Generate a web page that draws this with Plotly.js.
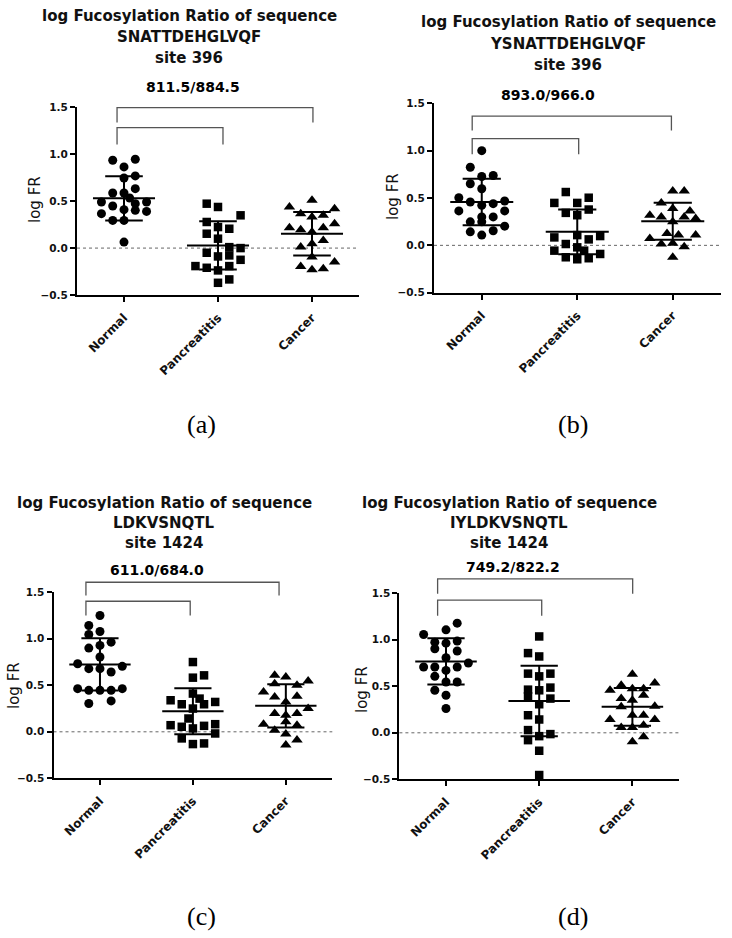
<!DOCTYPE html>
<html><head><meta charset="utf-8">
<script src="https://cdn.plot.ly/plotly-3.0.1.min.js"></script>
<style>html,body{margin:0;padding:0;background:#fff}#chart{width:732px;height:938px}</style>
</head><body><div id="chart"></div>
<script>
// ---------------- DATA ----------------
const categories = ['Normal', 'Pancreatitis', 'Cancer'];
const yTickVals = [-0.5, 0, 0.5, 1.0, 1.5];
const titleLine1 = 'log Fucosylation Ratio of sequence';
const sequences = ['SNATTDEHGLVQF', 'YSNATTDEHGLVQF', 'LDKVSNQTL', 'IYLDKVSNQTL'];
const sites = ['site 396', 'site 396', 'site 1424', 'site 1424'];
const massRatios = ['811.5/884.5', '893.0/966.0', '611.0/684.0', '749.2/822.2'];
const panelLabels = ['(a)', '(b)', '(c)', '(d)'];
const yTitle = 'log FR';

// panel (a)
const aNormal = [0.936, 0.947, 0.865, 0.747, 0.769, 0.587, 0.587, 0.633, 0.534, 0.491, 0.448, 0.409, 0.473, 0.491, 0.367, 0.391, 0.295, 0.295, 0.064, 0.402];
const aNormalSlot = [-1, 1, 0, 0, 1, -1, 0, 1, 0.5, -2, -1, 0, 1, 2, -2, 2, -1, 0, 0, 1];
const aPanc = [0.473, 0.438, 0.349, 0.278, 0.224, 0.206, 0.153, 0.100, 0.0, -0.05, -0.089, -0.078, -0.125, -0.192, -0.21, -0.192, -0.238, -0.334, -0.37, 0.01];
const aPancSlot = [-1, 0, 2, -1, 0, 1, -1, 0, 2, -1, 0, 1, 2, -2, -1, 1, 0, 1, 0, 1];
const aCancer = [0.509, 0.438, 0.42, 0.367, 0.349, 0.33, 0.217, 0.196, 0.217, 0.26, 0.171, 0.011, 0.046, 0.082, -0.096, -0.196, -0.231, -0.22, -0.149];
const aCancerSlot = [0, -2, 2, -1, 1, 0, -2, -1, 1, 2, 0, -1, 0, 1, 0, -1, 0, 1, 2];
const aMean = [0.53, 0.028, 0.153];
const aSD = [0.235, 0.257, 0.231];

// panel (b)
const bNormal = [1.0, 0.825, 0.727, 0.738, 0.65, 0.598, 0.503, 0.468, 0.458, 0.423, 0.44, 0.364, 0.364, 0.3, 0.3, 0.248, 0.248, 0.203, 0.143, 0.108, 0.154];
const bNormalSlot = [0, -1, 0, 1, -1, 0, -2, 2, -1, 0, 1, -2, 2, 0, 1, -1, 0, 2, -1, 0, 1];
const bPanc = [0.563, 0.448, 0.448, 0.503, 0.343, 0.318, 0.378, 0.084, 0.108, 0.014, 0.063, 0.098, -0.056, -0.021, -0.126, -0.147, -0.136, -0.091, -0.056];
const bPancSlot = [-1, -2, 0, 1, -1, 0, 1, -2, 0, -1, 1, 2, -2, 0, -1, 0, 1, 2, 0.6];
const bCancer = [0.573, 0.573, 0.448, 0.388, 0.318, 0.3, 0.3, 0.364, 0.283, 0.248, 0.073, 0.014, 0.021, -0.014, 0.108, 0.126, 0.108, -0.126];
const bCancerSlot = [0, 1, -1, 0, -2, -1, 1, 1.5, 2, 0, -2, -1, 0, 1, 2, -0.5, 0.5, 0];
const bMean = [0.458, 0.143, 0.255];
const bSD = [0.245, 0.236, 0.196];

// panel (c)
const cNormal = [1.25, 1.143, 1.046, 1.079, 0.9, 0.929, 0.964, 0.804, 0.732, 0.679, 0.679, 0.643, 0.704, 0.464, 0.446, 0.446, 0.446, 0.464, 0.304, 0.332];
const cNormalSlot = [0, -1, -1, 0, -1, 0, 1, 0, -2, -1, 0, 1, 2, -2, -1, 0, 1, 2, -1, 1];
const cPanc = [0.75, 0.582, 0.607, 0.411, 0.357, 0.339, 0.296, 0.296, 0.321, 0.25, 0.143, 0.071, 0.054, 0.036, 0.064, 0.082, -0.018, -0.071, -0.132, -0.125];
const cPancSlot = [0, 0, 1, 0, 0.6, -2, -1, 1, 2, 0, -0.4, -2, -1, 0, 1, 2, 2, -1, 0, 1];
const cCancer = [0.607, 0.589, 0.518, 0.5, 0.546, 0.429, 0.375, 0.382, 0.321, 0.25, 0.196, 0.179, 0.196, 0.082, 0.107, 0.071, 0.018, -0.025, -0.089, -0.143];
const cCancerSlot = [-1, 0, -1, 1, 2, -2, -1, 1, 0, 2, -1, 0, 1, -2, 0, 1, -1, 0, 1, 0];
const cMean = [0.725, 0.221, 0.279];
const cSD = [0.28, 0.248, 0.232];

// panel (d)
const dNormal = [1.179, 1.057, 1.107, 0.975, 0.964, 0.986, 0.904, 0.879, 0.807, 0.75, 0.707, 0.707, 0.671, 0.707, 0.607, 0.546, 0.546, 0.457, 0.404, 0.261];
const dNormalSlot = [1, -2, 0, -1, 0, 1, -1, 1, 0, 2, -2, -1, 0, 1, -1, 0, 1, -1, 0, 0];
const dPanc = [1.036, 0.857, 0.821, 0.636, 0.607, 0.636, 0.464, 0.457, 0.486, 0.393, 0.368, 0.307, 0.189, 0.143, 0.029, -0.036, -0.014, -0.079, -0.193, -0.454];
const dPancSlot = [0, -1, 0, -1, 0, 1, -1, 0, 1, -1, 1, 0, -1, 0, -1, 0, 1, -1, 0, 0];
const dCancer = [0.629, 0.511, 0.475, 0.475, 0.536, 0.457, 0.368, 0.404, 0.35, 0.279, 0.286, 0.189, 0.189, 0.143, 0.143, 0.057, 0.057, 0.082, -0.096, -0.043];
const dCancerSlot = [0, -1, 0, 1, 2, -2, -1, 1, 0, -1, 2, 0, 1, -2, 2, -1, 0, 1, 0, 1];
const dMean = [0.768, 0.343, 0.279];
const dSD = [0.249, 0.379, 0.202];

// ---------------- LAYOUT CONFIG ----------------
const W = 732, H = 938;
const px = v => v / W;
const py = v => 1 - v / H;
const panels = [
  { groups: [aNormal, aPanc, aCancer], slots: [aNormalSlot, aPancSlot, aCancerSlot], mean: aMean, sd: aSD,
    xd: [77, 359], yd: [107.3, 295], tx: 189, ty: [16, 37, 58], rx: 193, ry: 87, yt: [35, 200], cap: [201, 424],
    br: { left: -0.074, innerRight: 1.053, outerRight: 2.01, outerTop: 1.497, outerLeg: 1.337, innerTop: 1.284, innerLeg: 1.103 } },
  { groups: [bNormal, bPanc, bCancer], slots: [bNormalSlot, bPancSlot, bCancerSlot], mean: bMean, sd: bSD,
    xd: [434, 720.5], yd: [103.3, 292.7], tx: 568, ty: [21.7, 44, 65], rx: 548, ry: 95, yt: [393, 197], cap: [573, 424],
    br: { left: -0.10, innerRight: 1.015, outerRight: 1.986, outerTop: 1.364, outerLeg: 1.214, innerTop: 1.126, innerLeg: 0.961 } },
  { groups: [cNormal, cPanc, cCancer], slots: [cNormalSlot, cPancSlot, cCancerSlot], mean: cMean, sd: cSD,
    xd: [53.5, 332.3], yd: [592.3, 778.3], tx: 164, ty: [502.7, 523.3, 543.3], rx: 157, ry: 570, yt: [14, 686], cap: [201, 916],
    br: { left: -0.151, innerRight: 0.971, outerRight: 1.927, outerTop: 1.608, outerLeg: 1.465, innerTop: 1.404, innerLeg: 1.251 } },
  { groups: [dNormal, dPanc, dCancer], slots: [dNormalSlot, dPancSlot, dCancerSlot], mean: dMean, sd: dSD,
    xd: [399.4, 679], yd: [593.3, 779.3], tx: 509, ty: [502.7, 523.3, 543.3], rx: 513, ry: 567, yt: [362, 690], cap: [573, 916],
    br: { left: -0.09, innerRight: 1.027, outerRight: 2.003, outerTop: 1.655, outerLeg: 1.495, innerTop: 1.426, innerLeg: 1.258 } }
];
const symbols = ['circle', 'square', 'triangle-up'];
const sizes = [9, 8.5, 10];
const slotWidth = 0.12;
const SANS = 'DejaVu Sans, Verdana, sans-serif';

const traces = [], shapes = [], annotations = [];
const layout = {
  width: W, height: H, margin: { l: 0, r: 0, t: 0, b: 0 },
  paper_bgcolor: '#fff', plot_bgcolor: 'rgba(0,0,0,0)', showlegend: false,
  shapes: shapes, annotations: annotations
};

panels.forEach((p, k) => {
  const s = k === 0 ? '' : String(k + 1);
  const xa = 'x' + s, ya = 'y' + s;
  layout['xaxis' + s] = {
    domain: [px(p.xd[0]), px(p.xd[1])], range: [-0.5, 2.5], anchor: ya,
    showgrid: false, zeroline: false, showline: true, linecolor: '#000', linewidth: 2,
    ticks: 'outside', ticklen: 5, tickwidth: 2, tickcolor: '#000', ticklabelstandoff: 4,
    tickvals: [0, 1, 2], ticktext: categories, tickangle: -45,
    tickfont: { family: SANS, size: 12, color: '#111', weight: 'bold' }, fixedrange: true
  };
  layout['yaxis' + s] = {
    domain: [py(p.yd[1]), py(p.yd[0])], range: [-0.5, 1.5], anchor: xa,
    showgrid: false, zeroline: false, showline: true, linecolor: '#000', linewidth: 2,
    ticks: 'outside', ticklen: 5, tickwidth: 2, tickcolor: '#000',
    tickvals: yTickVals, tickformat: '.1f',
    tickfont: { family: SANS, size: 10.5, color: '#111', weight: 'bold' }, fixedrange: true
  };
  // points
  p.groups.forEach((vals, g) => {
    traces.push({
      type: 'scatter', mode: 'markers', xaxis: xa, yaxis: ya, cliponaxis: false,
      x: vals.map((v, i) => g + p.slots[g][i] * slotWidth), y: vals,
      marker: { symbol: symbols[g], size: sizes[g], color: '#000', line: { width: 0 } },
      hoverinfo: 'y'
    });
    // mean and SD
    const m = p.mean[g], d = p.sd[g];
    const ln = { color: '#000', width: 2 };
    shapes.push({ type: 'line', xref: xa, yref: ya, x0: g - 0.33, x1: g + 0.33, y0: m, y1: m, line: ln });
    shapes.push({ type: 'line', xref: xa, yref: ya, x0: g, x1: g, y0: m - d, y1: m + d, line: ln });
    shapes.push({ type: 'line', xref: xa, yref: ya, x0: g - 0.2, x1: g + 0.2, y0: m + d, y1: m + d, line: ln });
    shapes.push({ type: 'line', xref: xa, yref: ya, x0: g - 0.2, x1: g + 0.2, y0: m - d, y1: m - d, line: ln });
  });
  // dotted zero line
  shapes.push({ type: 'line', xref: xa + ' domain', yref: ya, x0: 0, x1: 1, y0: 0, y1: 0,
    line: { color: '#666', width: 1, dash: 'dot' }, layer: 'below' });
  // brackets (domain coordinates so they can exceed the range)
  const fx = v => (v + 0.5) / 3, fy = v => (v + 0.5) / 2;
  const b = p.br;
  const bl = { color: '#555', width: 1.3 };
  shapes.push({ type: 'path', xref: xa + ' domain', yref: ya + ' domain',
    path: `M${fx(b.left)},${fy(b.outerLeg)} L${fx(b.left)},${fy(b.outerTop)} L${fx(b.outerRight)},${fy(b.outerTop)} L${fx(b.outerRight)},${fy(b.outerLeg)}`,
    line: bl });
  shapes.push({ type: 'path', xref: xa + ' domain', yref: ya + ' domain',
    path: `M${fx(b.left)},${fy(b.innerLeg)} L${fx(b.left)},${fy(b.innerTop)} L${fx(b.innerRight)},${fy(b.innerTop)} L${fx(b.innerRight)},${fy(b.innerLeg)}`,
    line: bl });
  // titles
  const tlines = [titleLine1, sequences[k], sites[k]];
  tlines.forEach((t, i) => annotations.push({
    xref: 'paper', yref: 'paper', x: px(p.tx), y: py(p.ty[i]), xanchor: 'center', yanchor: 'middle',
    text: t, showarrow: false, font: { family: SANS, size: 15, color: '#111', weight: 'bold' }
  }));
  annotations.push({
    xref: 'paper', yref: 'paper', x: px(p.rx), y: py(p.ry), xanchor: 'center', yanchor: 'middle',
    text: massRatios[k], showarrow: false, font: { family: SANS, size: 14, color: '#000', weight: 'bold' }
  });
  annotations.push({
    xref: 'paper', yref: 'paper', x: px(p.yt[0]), y: py(p.yt[1]), xanchor: 'center', yanchor: 'middle',
    text: yTitle, textangle: -90, showarrow: false, font: { family: SANS, size: 15, color: '#111' }
  });
  annotations.push({
    xref: 'paper', yref: 'paper', x: px(p.cap[0]), y: py(p.cap[1]), xanchor: 'center', yanchor: 'middle',
    text: panelLabels[k], showarrow: false, font: { family: 'Liberation Serif, Times New Roman, serif', size: 26, color: '#000' }
  });
});

Plotly.newPlot('chart', traces, layout, { displayModeBar: false, staticPlot: true });
</script>
</body></html>
